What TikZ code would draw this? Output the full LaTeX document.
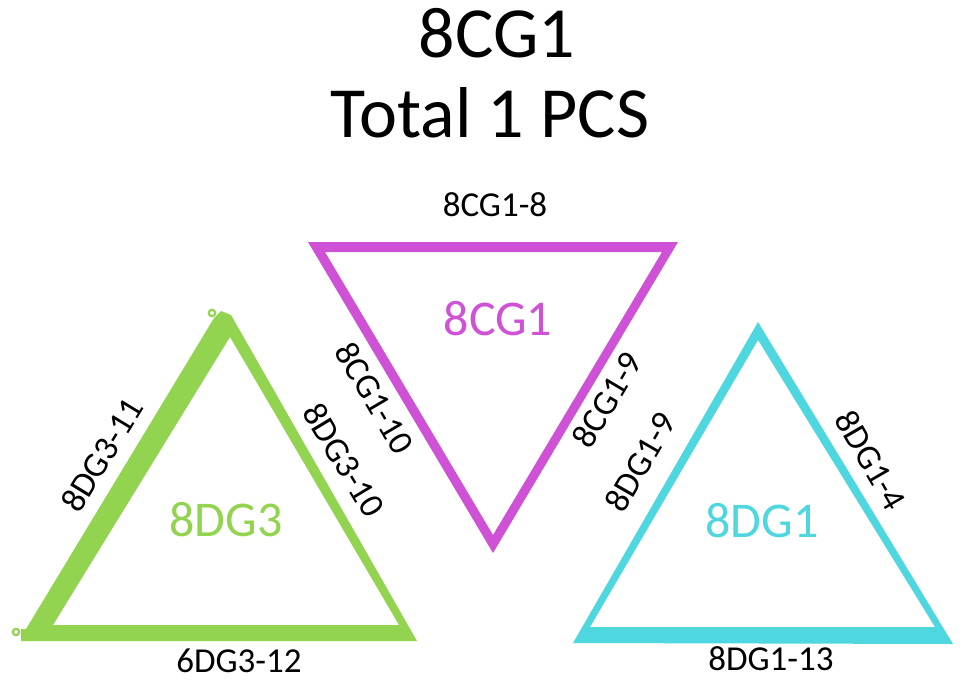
\documentclass[tikz,border=0pt]{standalone}
\usepackage{fontspec}
\setmainfont{Carlito}
\definecolor{cgmag}{RGB}{207,82,214}
\definecolor{dggreen}{RGB}{146,212,80}
\definecolor{dgcyan}{RGB}{78,215,222}
\tikzset{
  lbl/.style={inner sep=0pt, font=\fontsize{35}{40}\selectfont, text=black},
  biglbl/.style={inner sep=0pt, font=\fontsize{50}{56}\selectfont},
  titlelbl/.style={inner sep=0pt, anchor=base, font=\fontsize{72}{80}\selectfont, text=black},
}
\begin{document}
\begin{tikzpicture}[x=1pt,y=-1pt]
\useasboundingbox[fill=white] (0,0) rectangle (965,680);
% titles
\node[titlelbl] (t1) at (497,57) {8CG1};
\node[titlelbl] (t2) at (490,137) {Total 1 PCS};
% magenta triangle
\fill[cgmag, even odd rule] (308,242) -- (678,242) -- (493,553) -- cycle
  (325,252) -- (662,252) -- (493,535) -- cycle;
% green triangle
\fill[dggreen, even odd rule] (214,318) -- (221,311) -- (231,315) -- (417,641) -- (21,641) -- (21,629) -- (26,629) -- cycle
  (230,337) -- (399,625) -- (53,625) -- cycle;
\draw[dggreen, line width=2.2] (212,313) circle (3.2);
\draw[dggreen, line width=2.2] (16,632) circle (3.2);
% cyan triangle
\fill[dgcyan, even odd rule] (758,322) -- (953,644) -- (573,643) -- cycle
  (758,340) -- (935,627) -- (590,627) -- cycle;
% big labels
\node[biglbl, text=cgmag] (m) at (498,319) {8CG1};
\node[biglbl, text=dggreen] (g) at (226,520) {8DG3};
\node[biglbl, text=dgcyan] (c) at (762,521) {8DG1};
% edge labels
\node[lbl] (e1) at (495,205) {8CG1-8};
\node[lbl, rotate=-59.5] (e2) at (375,398) {8CG1-10};
\node[lbl, rotate=59.5] (e3) at (607,400) {8CG1-9};
\node[lbl, rotate=58.6] (e4) at (102,455) {8DG3-11};
\node[lbl, rotate=-59] (e5) at (344,460) {8DG3-10};
\node[lbl] (e6) at (239,661) {6DG3-12};
\node[lbl, rotate=60] (e7) at (640,462) {8DG1-9};
\node[lbl, rotate=-60] (e8) at (871,460) {8DG1-4};
\node[lbl] (e9) at (771,659) {8DG1-13};
\end{tikzpicture}
\end{document}
